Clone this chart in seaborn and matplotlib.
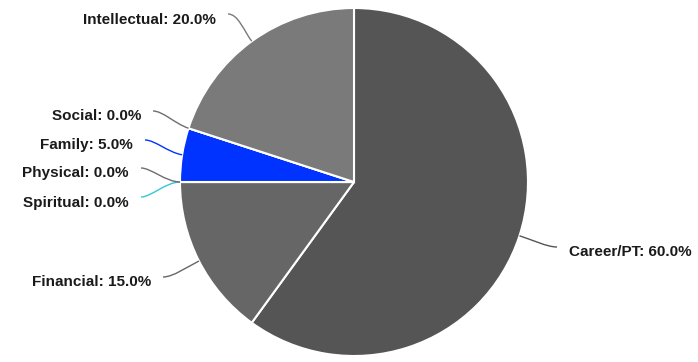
import numpy as np
import matplotlib
matplotlib.use("Agg")
import matplotlib.pyplot as plt
from matplotlib.path import Path
from matplotlib.patches import PathPatch
import seaborn as sns

# ---- data ----
categories = ["Career/PT", "Financial", "Spiritual", "Physical", "Family", "Social", "Intellectual"]
values = [60.0, 15.0, 0.0, 0.0, 5.0, 0.0, 20.0]
colors = ["#555555", "#666666", "#33c6d8", "#6e6e6e", "#0033ff", "#6e6e6e", "#7a7a7a"]

# ---- layout (pixels, y downward as in the picture) ----
W, H = 698, 362
CX, CY, R = 354, 182, 174
# where each leader line ends next to its label
anchors = {
    "Career/PT": (557, 247),
    "Financial": (163, 277),
    "Spiritual": (141, 197),
    "Physical": (141, 168),
    "Family": (145, 140),
    "Social": (153, 111),
    "Intellectual": (228, 14),
}

sns.set_theme(style="white")
plt.rcParams["font.family"] = ["Liberation Sans", "DejaVu Sans"]

fig = plt.figure(figsize=(W / 100, H / 100), dpi=100)
ax = fig.add_axes([0, 0, 1, 1])

wedges, _ = ax.pie(values, colors=colors, startangle=90, counterclock=False,
                   radius=R, center=(CX, H - CY),
                   wedgeprops=dict(edgecolor="white", linewidth=1.5))
ax.set_xlim(0, W)
ax.set_ylim(0, H)
ax.set_aspect("equal")
ax.axis("off")

total = sum(values)
for w, cat, col, v in zip(wedges, categories, colors, values):
    mid = np.deg2rad((w.theta1 + w.theta2) / 2)
    dx, dy = np.cos(mid), np.sin(mid)
    ex, ey = CX + R * dx, (H - CY) + R * dy
    ax_, ay_ = anchors[cat]
    ay_ = H - ay_
    side = 1 if ax_ > CX else -1
    c2 = (CX + (R + 14) * dx, (H - CY) + (R + 14) * dy)
    c1 = (ax_ - side * 10, ay_)
    path = Path([(ax_, ay_), c1, c2, (ex, ey)],
                [Path.MOVETO, Path.CURVE4, Path.CURVE4, Path.CURVE4])
    ax.add_patch(PathPatch(path, facecolor="none", edgecolor=col, linewidth=1.0))
    tx = ax_ + side * 12
    ty = ay_ - 5.5
    ax.text(tx, ty, f"{cat}: {v / total * 100:.1f}%", ha="left" if side > 0 else "right",
            va="center", fontsize=11, fontweight="bold", color="#1a1a1a")

fig.savefig("out.png", dpi=100)
